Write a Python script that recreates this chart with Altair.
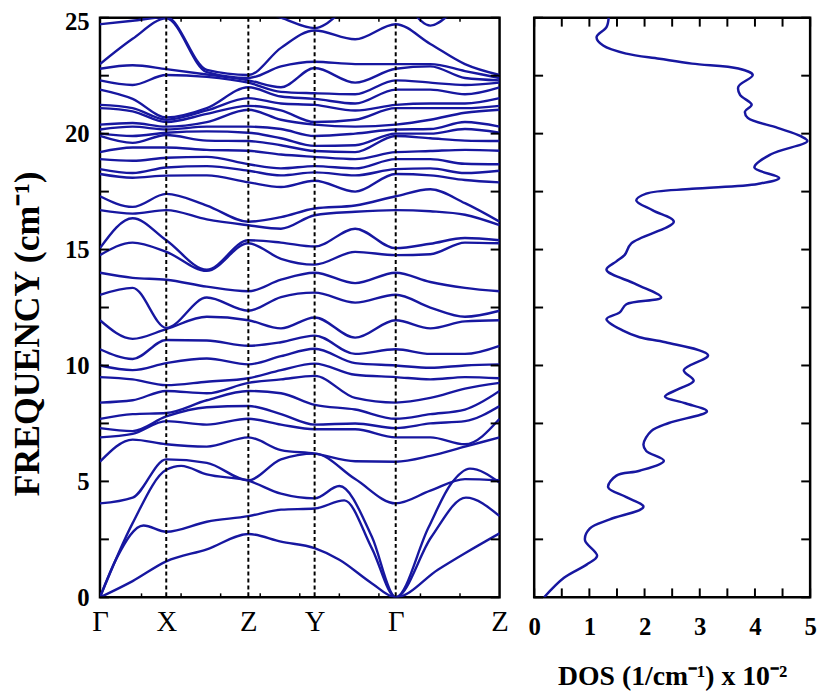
import altair as alt
import pandas as pd

BLUE = "#1717a0"
INK = "black"
FONT = "Liberation Serif"

# ---- band-structure path ----
K_POINTS = [0, 67, 150, 217, 299, 404]
K_LABELS = ["Γ", "X", "Z", "Y", "Γ", "Z"]
DASHED_K = [67, 150, 217, 299]
MINOR_K = [42, 82, 122, 162, 202, 242, 282, 324, 364]
GRID_K = [0, 33, 67, 108, 150, 183, 217, 258, 299, 334, 369, 404]

# optical branches (cm-1), lowest to highest, at each grid node
COL_G = [4.05, 5.85, 6.9, 7.3, 7.7, 8.4, 9.5, 10.0, 10.7, 11.95, 13.05, 14.0, 14.76, 15.06, 16.7, 17.3,
         18.26, 18.47, 18.9, 19.2, 19.9, 20.0, 20.18, 20.39, 21.1, 21.24, 21.9, 22.3, 22.8, 23.0, 24.72, 25.8]
COL_1 = [4.3, 6.8, 7.05, 7.17, 7.9, 8.5, 9.4, 9.8, 10.28, 11.15, 13.35, 13.78, 15.3, 16.35, 16.55, 16.84,
         18.1, 18.3, 18.83, 19.4, 19.6, 19.9, 20.3, 20.46, 20.96, 21.1, 21.5, 22.1, 22.95, 24.09, 24.87, 26.0]
COL_X = [5.95, 6.6, 7.6, 7.8, 7.95, 8.9, 9.15, 10.1, 11.1, 11.57, 11.62, 13.7, 14.9, 15.4, 16.7, 17.4,
         18.19, 18.54, 18.96, 19.4, 19.94, 20.04, 20.18, 20.3, 20.5, 20.6, 20.7, 22.53, 22.78, 24.97, 25.03, 26.5]
COL_3 = [5.8, 6.5, 7.45, 8.2, 8.5, 8.8, 9.3, 10.3, 11.08, 12.1, 12.93, 13.4, 14.08, 14.13, 16.3, 16.9,
         18.2, 18.6, 19.0, 19.3, 19.7, 20.1, 20.3, 20.5, 20.85, 21.0, 21.1, 22.45, 22.55, 22.65, 22.75, 26.0]
COL_Z = [5.05, 6.9, 7.7, 8.25, 8.9, 9.25, 9.45, 10.05, 10.85, 11.95, 12.36, 13.2, 15.27, 15.4, 16.05, 16.2,
         17.9, 18.4, 18.68, 19.26, 19.68, 20.04, 20.3, 21.03, 21.2, 21.53, 22.0, 22.2, 22.3, 22.4, 22.53, 25.5]
COL_5 = [5.95, 6.35, 7.45, 7.9, 8.8, 9.4, 9.8, 10.4, 11.0, 11.6, 12.95, 13.7, 14.6, 15.3, 15.9, 16.4,
         17.7, 18.2, 18.5, 19.1, 19.5, 19.8, 20.2, 20.6, 21.0, 21.3, 21.6, 21.8, 22.0, 22.9, 23.7, 25.0]
COL_Y = [6.2, 6.2, 7.25, 7.45, 8.3, 9.55, 10.08, 10.72, 11.29, 12.07, 13.14, 14.0, 14.35, 15.13, 16.48, 16.77,
         17.97, 18.33, 18.6, 19.0, 19.25, 19.47, 19.9, 20.39, 20.5, 21.24, 21.5, 21.74, 22.83, 23.1, 24.45, 24.55]
COL_7 = [5.1, 5.87, 7.25, 7.5, 8.1, 8.6, 9.6, 10.1, 10.5, 11.2, 12.71, 13.55, 14.9, 15.9, 16.63, 16.9,
         17.5, 18.2, 18.5, 18.9, 19.2, 19.5, 20.0, 20.3, 20.6, 21.0, 21.3, 21.7, 22.2, 23.0, 24.07, 25.6]
COL_9 = [4.6, 6.1, 6.9, 7.5, 7.9, 8.6, 9.4, 9.9, 10.5, 11.6, 12.5, 13.6, 14.8, 15.25, 16.65, 17.6,
         18.2, 18.5, 18.9, 19.25, 19.8, 20.0, 20.2, 20.6, 21.1, 21.3, 21.9, 22.2, 22.9, 23.0, 23.87, 24.66]
COL_10 = [5.1, 6.5, 6.6, 7.6, 8.1, 9.0, 9.5, 10.0, 10.5, 11.9, 12.1, 13.35, 15.3, 15.5, 16.5, 17.0,
          18.0, 18.3, 18.7, 19.3, 19.7, 20.2, 20.5, 20.9, 21.1, 21.3, 21.7, 22.1, 22.4, 22.7, 23.0, 25.5]
COLUMNS = [COL_G, COL_1, COL_X, COL_3, COL_Z, COL_5, COL_Y, COL_7, COL_G, COL_9, COL_10, COL_Z]

# acoustic branches (own sampling along the path)
TA1_K = [0, 33, 67, 108, 150, 183, 217, 242, 275, 299, 342, 369, 404]
TA1_F = [0, 0.7, 1.55, 2.07, 2.73, 2.4, 2.12, 1.62, 0.6, 0, 1.2, 1.9, 2.76]
TA2_K = [0, 17, 44, 67, 108, 150, 183, 217, 247, 275, 299, 335, 370, 404]
TA2_F = [0, 1.7, 3.1, 2.83, 3.26, 3.5, 3.78, 3.83, 4.18, 2.1, 0, 2.6, 4.3, 3.5]
LA_K = [0, 33, 67, 82, 108, 150, 183, 217, 242, 275, 299, 332, 355, 374, 404]
LA_F = [0, 3.2, 5.5, 5.67, 5.3, 5.03, 4.47, 4.27, 4.8, 2.6, 0, 3.0, 4.9, 5.55, 4.95]

# ---- density of states ----
DOS_FREQ = [0, 0.84, 1.41, 1.79, 2.47, 2.97, 3.36, 3.9, 4.32, 4.75, 5.25, 5.46, 5.89, 6.31, 6.6, 7.17,
            7.52, 8.02, 8.37, 8.66, 8.99, 9.34, 9.8, 10.44, 11.0, 11.22, 11.5, 12.0, 12.29, 12.64, 12.93,
            13.5, 14.13, 14.49, 14.77, 15.27, 16.2, 16.69, 17.12, 17.41, 17.62, 17.83, 18.09, 18.54,
            19.11, 19.68, 19.89, 20.25, 20.68, 20.96, 21.25, 21.67, 22.03, 22.53, 22.81, 23.02, 23.23,
            23.45, 23.8, 24.16, 24.59, 25.0]
DOS_VALUE = [0.18, 0.54, 0.95, 1.14, 0.92, 1.01, 1.37, 1.98, 1.67, 1.34, 1.49, 1.91, 2.35, 2.03, 1.98, 2.12,
             2.44, 3.13, 2.74, 2.37, 2.62, 2.89, 2.71, 3.15, 2.38, 1.91, 1.61, 1.31, 1.55, 1.67, 2.3,
             1.85, 1.31, 1.49, 1.64, 1.76, 2.53, 2.15, 1.85, 2.03, 2.86, 4.05, 4.44, 3.99,
             4.29, 4.95, 4.83, 4.41, 3.87, 3.82, 3.94, 3.73, 3.7, 3.96, 3.7, 2.86, 2.27,
             1.67, 1.25, 1.13, 1.31, 1.35]

FREQ_TICKS = [0, 2.5, 5, 7.5, 10, 12.5, 15, 17.5, 20, 22.5, 25]
FREQ_LABELS = [0, 5, 10, 15, 20, 25]
DOS_TICKS = [0, 0.5, 1, 1.5, 2, 2.5, 3, 3.5, 4, 4.5, 5]
DOS_LABELS = [0, 1, 2, 3, 4, 5]

W_BAND, W_DOS, H = 404, 279, 586
TICK_LEN = 9
MINOR_LEN = 4

# ---- tables ----
rows = []
for b in range(len(COL_G)):
    for k, col in zip(GRID_K, COLUMNS):
        rows.append({"band": f"o{b}", "k": k, "f": col[b]})
for name, ks, fs in [("TA1", TA1_K, TA1_F), ("TA2", TA2_K, TA2_F), ("LA", LA_K, LA_F)]:
    for k, f in zip(ks, fs):
        rows.append({"band": name, "k": k, "f": f})
band_df = pd.DataFrame(rows)
dos_df = pd.DataFrame({"f": DOS_FREQ, "dos": DOS_VALUE, "i": list(range(len(DOS_FREQ)))})
ftick_df = pd.DataFrame({"f": FREQ_TICKS})
dtick_df = pd.DataFrame({"d": DOS_TICKS})
dash_df = pd.DataFrame({"k": DASHED_K})
minor_df = pd.DataFrame({"k": MINOR_K})

fscale = alt.Scale(domain=[0, 25], nice=False, zero=False)
kscale = alt.Scale(domain=[0, 404], nice=False, zero=False)
dscale = alt.Scale(domain=[0, 5], nice=False, zero=False)

label_expr = ""
for k, lab in zip(K_POINTS, K_LABELS):
    label_expr += f"datum.value == {k} ? '{lab}' : "
label_expr += "''"

axis_common = dict(ticks=False, tickSize=0, domain=False, grid=False, labelFlush=False,
                   labelOverlap=False, labelColor=INK, labelFont=FONT, titleColor=INK, titleFont=FONT)

band_axis_x = alt.Axis(values=K_POINTS, labelExpr=label_expr, title=None, labelFontSize=29,
                       labelPadding=11, **axis_common)
freq_axis = alt.Axis(values=FREQ_LABELS, format="d", title="FREQUENCY (cm⁻¹)", titleFontSize=36,
                     titleFontWeight="bold", titlePadding=18, titleY=319,
                     labelFontSize=25, labelFontWeight="bold", labelPadding=11,
                     labelOffset={"condition": {"test": "datum.value == 25", "value": 4}, "value": 0},
                     **axis_common)
dos_axis = alt.Axis(values=DOS_LABELS, format="d", title="DOS (1/cm⁻¹) x 10⁻²", titleFontSize=28,
                    titleFontWeight="bold", titlePadding=23, labelFontSize=25, labelFontWeight="bold",
                    labelPadding=18, **axis_common)

KX = alt.X("k:Q", scale=kscale, axis=band_axis_x)
FY = alt.Y("f:Q", scale=fscale, axis=freq_axis)
DX = alt.X("d:Q", scale=dscale, axis=dos_axis)

band_lines = alt.Chart(band_df).mark_line(interpolate="monotone", clip=True, color=BLUE,
                                          strokeWidth=2.4).encode(
    x=KX, y=FY, detail="band:N")
dashed = alt.Chart(dash_df).mark_rule(color=INK, strokeWidth=2, strokeDash=[4, 3]).encode(x=KX)
minor_bot = alt.Chart(minor_df).mark_rule(color=INK, strokeWidth=1.5).encode(
    x=KX, y=alt.value(H - MINOR_LEN), y2=alt.value(H))
minor_top = alt.Chart(minor_df).mark_rule(color=INK, strokeWidth=1.5).encode(
    x=KX, y=alt.value(0), y2=alt.value(MINOR_LEN))


def y_ticks(width, yenc):
    left_t = alt.Chart(ftick_df).mark_rule(color=INK, strokeWidth=2).encode(
        y=yenc, x=alt.value(0), x2=alt.value(TICK_LEN))
    right_t = alt.Chart(ftick_df).mark_rule(color=INK, strokeWidth=2).encode(
        y=yenc, x=alt.value(width - TICK_LEN), x2=alt.value(width))
    return [left_t, right_t]


left = alt.layer(band_lines, dashed, minor_bot, minor_top, *y_ticks(W_BAND, FY)).properties(
    width=W_BAND, height=H)

FY_NONE = alt.Y("f:Q", scale=fscale, axis=None)
dos_line = alt.Chart(dos_df).mark_line(interpolate="catmull-rom", clip=True, color=BLUE,
                                       strokeWidth=2.5).encode(
    x=alt.X("dos:Q", scale=dscale, axis=dos_axis),
    y=FY_NONE,
    order="i:Q",
)
dbot = alt.Chart(dtick_df).mark_rule(color=INK, strokeWidth=2).encode(
    x=DX, y=alt.value(H - TICK_LEN), y2=alt.value(H))
dtop = alt.Chart(dtick_df).mark_rule(color=INK, strokeWidth=2).encode(
    x=DX, y=alt.value(0), y2=alt.value(TICK_LEN))

right = alt.layer(dos_line, *y_ticks(W_DOS, FY_NONE), dbot, dtop).properties(width=W_DOS, height=H)

chart = alt.hconcat(left, right, spacing=35, bounds="flush").properties(
    padding={"left": 0, "top": -4, "right": 5, "bottom": 5}
).configure_view(stroke=INK, strokeWidth=2.5)

chart.save("out.html", embed_options={"renderer": "svg", "actions": False})
